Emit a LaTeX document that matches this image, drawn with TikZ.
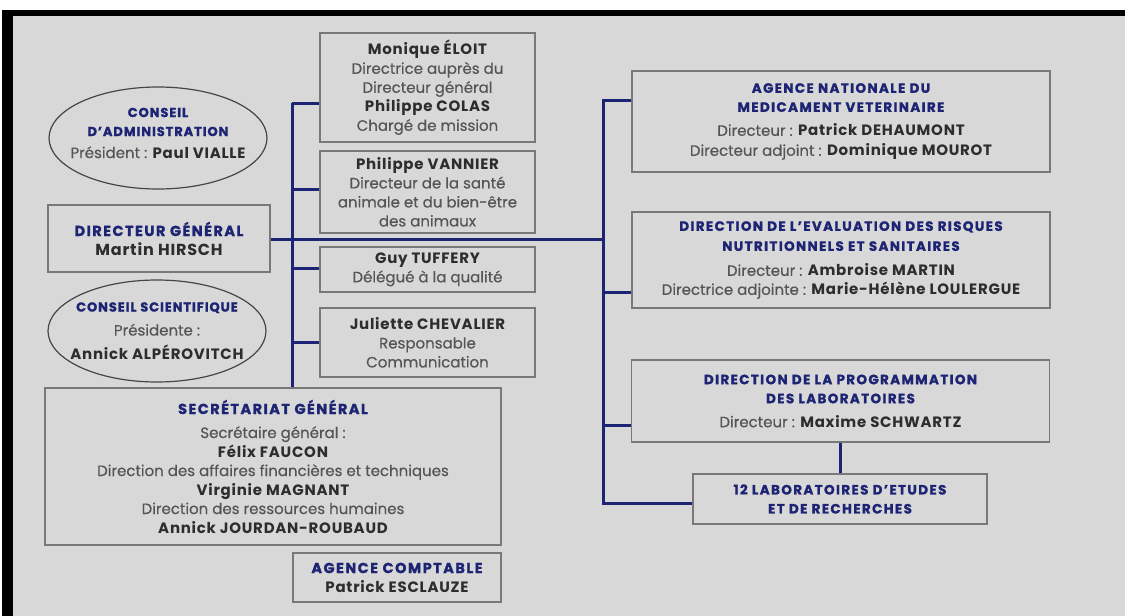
\documentclass[tikz,border=0pt]{standalone}
\usepackage{fontspec}
\setmainfont{Poppins}[UprightFeatures={FakeBold=0.4}]
\newfontfamily\hfa{Poppins}[LetterSpace=7, BoldFeatures={FakeBold=1.2}]
\newfontfamily\hfb{Poppins}[LetterSpace=10, BoldFeatures={FakeBold=1.2}]
\newfontfamily\nfa{Poppins}[LetterSpace=5]
\usetikzlibrary{shapes.geometric}
\definecolor{navy}{RGB}{28,36,115}
\definecolor{namec}{RGB}{45,45,45}
\definecolor{txtc}{RGB}{85,85,85}
\definecolor{bgc}{RGB}{216,216,216}
\definecolor{boxc}{RGB}{120,120,120}
\definecolor{ellc}{RGB}{70,70,70}
% headings: small (ellipses), large (left boxes), right boxes
\newcommand{\hda}[1]{{\hfa\fontsize{13}{18}\selectfont\bfseries\color{navy}#1}}
\newcommand{\hdb}[1]{{\hfb\fontsize{14.5}{19}\selectfont\bfseries\color{navy}#1}}
\newcommand{\hdr}[1]{{\hfb\fontsize{13.5}{19}\selectfont\bfseries\color{navy}#1}}
\newcommand{\nmb}[1]{{\nfa\bfseries\color{namec}#1}}
\newcommand{\txr}[1]{{\color{txtc}#1}}
\tikzset{
  orgbox/.style={draw=boxc, line width=1.4pt, fill=bgc, rectangle, inner sep=0pt, align=center,
    font=\fontsize{15}{19}\selectfont},
  orgell/.style={draw=ellc, line width=1.2pt, fill=bgc, ellipse, inner sep=0pt},
  elltext/.style={inner sep=0pt, align=center, font=\fontsize{15}{19}\selectfont},
  conn/.style={draw=navy, line width=3pt},
}
\begin{document}
\begin{tikzpicture}[x=1pt,y=-1pt]
\useasboundingbox (0,0) rectangle (1125,616);
\fill[white] (0,0) rectangle (1125,616);
\fill[bgc] (12,16) rectangle (1125,616);
\fill[black] (5,10) rectangle (1125,16);
\fill[black] (2,10) rectangle (13,616);

% left column
\node[orgell, minimum width=218pt, minimum height=102pt] (ca) at (158,138) {};
\node[elltext] (ca-t) at (158,133)
  {\hda{CONSEIL}\\ \hda{D’ADMINISTRATION}\\[3pt] \txr{Président :} \nmb{Paul VIALLE}};
\node[orgbox, minimum width=222pt, minimum height=67pt] (dg) at (159,238.5)
  {\hdb{DIRECTEUR GÉNÉRAL}\\ {\fontsize{16}{19}\selectfont\nmb{Martin HIRSCH}}};
\node[orgell, minimum width=218pt, minimum height=102pt] (cs) at (157,331) {};
\node[elltext] (cs-t) at (157,331)
  {\hda{CONSEIL SCIENTIFIQUE}\\[5pt] \txr{Présidente :}\\[5pt] \nmb{Annick ALPÉROVITCH}};
\node[orgbox, minimum width=456pt, minimum height=157pt] (sg) at (273,466.5)
  {\hdb{SECRÉTARIAT GÉNÉRAL}\\[5pt]
   \txr{Secrétaire général :}\\ \nmb{Félix FAUCON}\\
   \txr{Direction des affaires financières et techniques}\\
   \nmb{Virginie MAGNANT}\\ \txr{Direction des ressources humaines}\\
   \nmb{Annick JOURDAN-ROUBAUD}};
\node[orgbox, minimum width=208pt, minimum height=49pt] (ac) at (397,577.5)
  {\hdb{AGENCE COMPTABLE}\\ \nmb{Patrick ESCLAUZE}};

% middle column
\node[orgbox, minimum width=215pt, minimum height=109pt] (mon) at (427.5,87.5)
  {\nmb{Monique ÉLOIT}\\ \txr{Directrice auprès du}\\ \txr{Directeur général}\\
   \nmb{Philippe COLAS}\\ \txr{Chargé de mission}};
\node[orgbox, minimum width=215pt, minimum height=82pt] (van) at (427.5,192)
  {\nmb{Philippe VANNIER}\\ \txr{Directeur de la santé}\\ \txr{animale et du bien-être}\\
   \txr{des animaux}};
\node[orgbox, minimum width=215pt, minimum height=45pt] (tuf) at (427.5,269.5)
  {\nmb{Guy TUFFERY}\\ \txr{Délégué à la qualité}};
\node[orgbox, minimum width=215pt, minimum height=69pt] (che) at (427.5,342.5)
  {\nmb{Juliette CHEVALIER}\\ \txr{Responsable}\\ \txr{Communication}};

% right column
\node[orgbox, minimum width=418pt, minimum height=101pt] (anmv) at (841,121.5)
  {\hdr{AGENCE NATIONALE DU}\\[0pt] \hdr{MEDICAMENT VETERINAIRE}\\[5pt]
   \txr{Directeur :} \nmb{Patrick DEHAUMONT}\\[1pt]
   \txr{Directeur adjoint :} \nmb{Dominique MOUROT}};
\node[orgbox, minimum width=418pt, minimum height=96pt] (derns) at (841,260)
  {\hdr{DIRECTION DE L’EVALUATION DES RISQUES}\\[1pt] \hdr{NUTRITIONNELS ET SANITAIRES}\\[6pt]
   \txr{Directeur :} \nmb{Ambroise MARTIN}\\
   \txr{Directrice adjointe :} \nmb{Marie-Hélène LOULERGUE}};
\node[orgbox, minimum width=418pt, minimum height=82pt] (prog) at (840.5,401)
  {\hdr{DIRECTION DE LA PROGRAMMATION}\\ \hdr{DES LABORATOIRES}\\[5pt]
   \txr{Directeur :} \nmb{Maxime SCHWARTZ}};
\node[orgbox, minimum width=294pt, minimum height=50pt] (labs) at (840,499)
  {\hdr{12 LABORATOIRES D’ETUDES}\\ \hdr{ET DE RECHERCHES}};

% connectors
\coordinate (l1) at (292,103);
\coordinate (l2) at (292,189);
\coordinate (l3) at (292,268);
\coordinate (l4) at (292,342);
\coordinate (mainy) at (0,239);
\coordinate (r0) at (603,100);
\coordinate (r2) at (603,292);
\coordinate (r3) at (603,425);
\coordinate (r4) at (603,503);

\draw[conn] (l1) -- (l1 |- sg.north);
\draw[conn] (l1) -- (l1 -| mon.west);
\draw[conn] (l2) -- (l2 -| van.west);
\draw[conn] (l3) -- (l3 -| tuf.west);
\draw[conn] (l4) -- (l4 -| che.west);
\draw[conn] (dg.east |- mainy) -- (r0 |- mainy);
\draw[conn, line join=miter] (r0 -| anmv.west) -- (r0) -- (r4) -- (r4 -| labs.west);
\draw[conn] (r2) -- (r2 -| derns.west);
\draw[conn] (r3) -- (r3 -| prog.west);
\draw[conn] (labs.north |- prog.south) -- (labs.north);
\end{tikzpicture}
\end{document}
